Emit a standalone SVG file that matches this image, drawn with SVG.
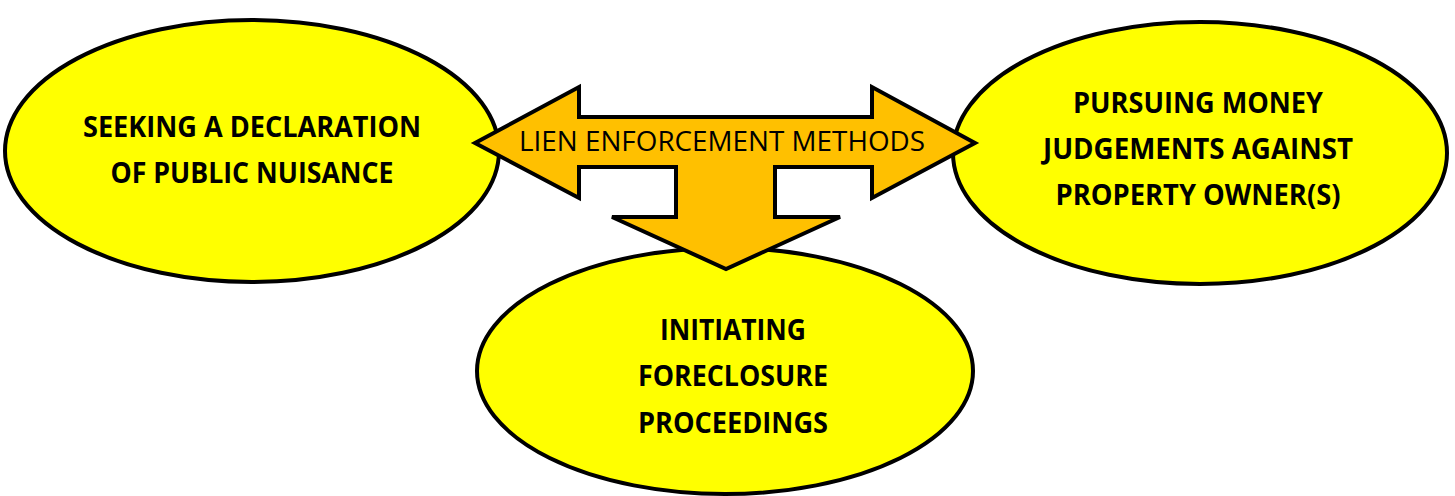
<svg xmlns="http://www.w3.org/2000/svg" width="1455" height="496" viewBox="0 0 1455 496">
<style>
.node ellipse{fill:#FFFF00;stroke:#000;stroke-width:4}
.lbl{font-family:"Open Sans","Liberation Sans",Arial,sans-serif;font-weight:bold;font-size:28px;fill:#000;text-anchor:middle}
.arrow{fill:#FFC000;stroke:#000;stroke-width:4;stroke-linejoin:miter}
.title{font-family:"Open Sans","Liberation Sans",Arial,sans-serif;font-size:27px;fill:#000;text-anchor:middle}
</style>
<rect width="1455" height="496" fill="#fff"/>
<g id="node-left" class="node">
<ellipse cx="252" cy="151" rx="247" ry="131"/>
</g>
<g id="node-right" class="node">
<ellipse cx="1200" cy="153" rx="247" ry="131"/>
</g>
<g id="node-bottom" class="node">
<ellipse cx="725" cy="371" rx="248" ry="123"/>
</g>
<g id="connectors">
<path class="arrow" d="M475,143 L579,87 L579,117 L872,117 L872,87 L975,143 L872,198 L872,167 L775,167 L775,217 L840,217 L726,269 L612,217 L676,217 L676,167 L579,167 L579,198 Z"/>
<text class="title" x="722" y="151" textLength="406" lengthAdjust="spacingAndGlyphs">LIEN ENFORCEMENT METHODS</text>
</g>
<g id="labels-left">
<text class="lbl" x="252" y="137" textLength="338" lengthAdjust="spacingAndGlyphs">SEEKING A DECLARATION</text>
<text class="lbl" x="252" y="183" textLength="283" lengthAdjust="spacingAndGlyphs">OF PUBLIC NUISANCE</text>
</g>
<g id="labels-right">
<text class="lbl" x="1198" y="113" textLength="250" lengthAdjust="spacingAndGlyphs">PURSUING MONEY</text>
<text class="lbl" x="1198" y="159" textLength="310" lengthAdjust="spacingAndGlyphs">JUDGEMENTS AGAINST</text>
<text class="lbl" x="1198" y="205" textLength="285" lengthAdjust="spacingAndGlyphs">PROPERTY OWNER(S)</text>
</g>
<g id="labels-bottom">
<text class="lbl" x="733" y="340" textLength="146" lengthAdjust="spacingAndGlyphs">INITIATING</text>
<text class="lbl" x="733" y="386" textLength="190" lengthAdjust="spacingAndGlyphs">FORECLOSURE</text>
<text class="lbl" x="733" y="433" textLength="190" lengthAdjust="spacingAndGlyphs">PROCEEDINGS</text>
</g>
</svg>
